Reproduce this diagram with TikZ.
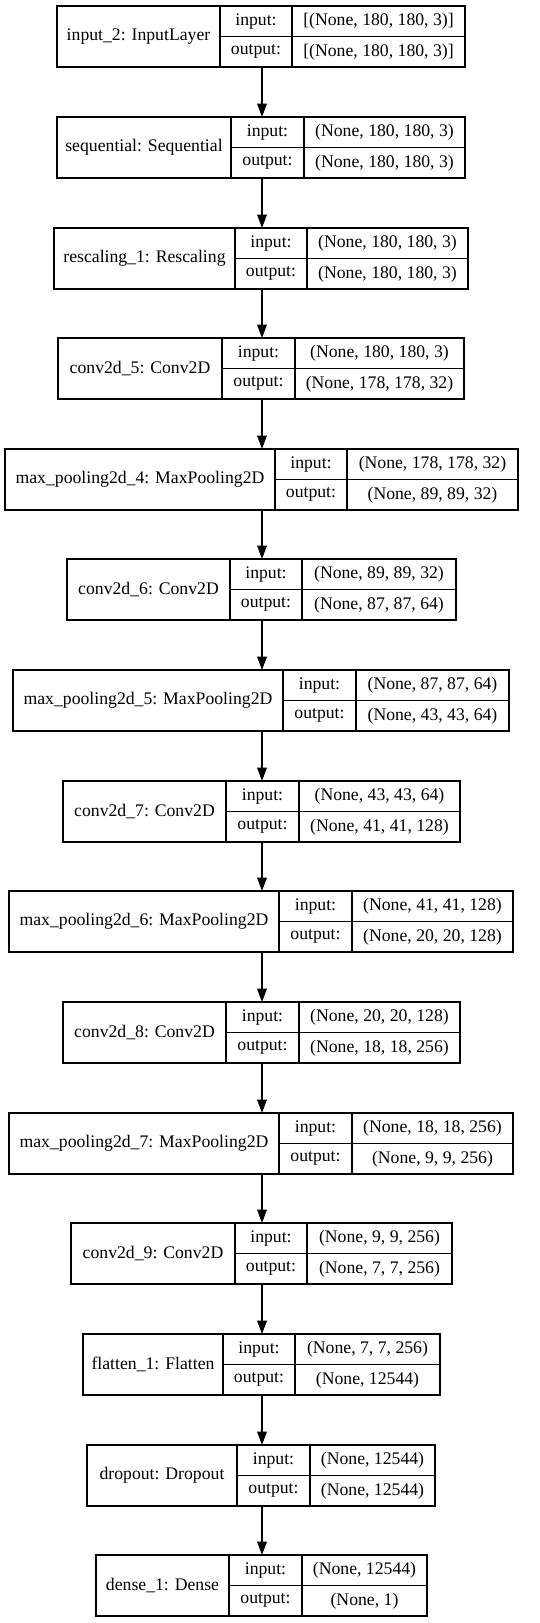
\documentclass[tikz,border=0pt]{standalone}
\usepackage{fontspec}
\setmainfont{Liberation Serif}
\usetikzlibrary{arrows.meta}

\tikzset{
  cell/.style={draw, line width=1.3pt, inner sep=0pt, outer sep=0pt, anchor=north west,
    font=\fontsize{17.7}{20}\selectfont},
  arr/.style={line width=1.3pt, -{Triangle[length=13.3pt,width=9.6pt]}}
}

% one layer: id, top, left, 1st divider, 2nd divider, right, name, input, output
\newcommand{\layer}[9]{%
  \node[cell, minimum width={(#4-#3)*1pt}, minimum height=61pt] (#1) at (#3,#2) {#7};
  \node[cell, minimum width={(#5-#4)*1pt}, minimum height=30.5pt] (#1-in) at (#1.north east) {input:};
  \node[cell, minimum width={(#5-#4)*1pt}, minimum height=30.5pt] (#1-out) at (#1-in.south west) {output:};
  \node[cell, minimum width={(#6-#5)*1pt}, minimum height=30.5pt] (#1-inv) at (#1-in.north east) {#8};
  \node[cell, minimum width={(#6-#5)*1pt}, minimum height=30.5pt] (#1-outv) at (#1-inv.south west) {#9};
}

\begin{document}
\begin{tikzpicture}[x=1pt, y=-1pt]
    \useasboundingbox (0,0) rectangle (540,1623);
    \coordinate (spine) at (262,0);

    \layer{inp}{6}{57}{220}{292}{465}{input\_2: InputLayer}{[(None, 180, 180, 3)]}{[(None, 180, 180, 3)]}
    \layer{seq}{117}{57}{231}{304}{465}{sequential: Sequential}{(None, 180, 180, 3)}{(None, 180, 180, 3)}
    \layer{resc}{228}{54}{235}{307}{468}{rescaling\_1: Rescaling}{(None, 180, 180, 3)}{(None, 180, 180, 3)}
    \layer{conv5}{338}{58}{222}{295}{464}{conv2d\_5: Conv2D}{(None, 180, 180, 3)}{(None, 178, 178, 32)}
    \layer{pool4}{449}{5}{275}{347}{518}{max\_pooling2d\_4: MaxPooling2D}{(None, 178, 178, 32)}{(None, 89, 89, 32)}
    \layer{conv6}{559}{67}{230}{302}{456}{conv2d\_6: Conv2D}{(None, 89, 89, 32)}{(None, 87, 87, 64)}
    \layer{pool5}{670}{13}{283}{356}{509}{max\_pooling2d\_5: MaxPooling2D}{(None, 87, 87, 64)}{(None, 43, 43, 64)}
    \layer{conv7}{781}{63}{226}{299}{460}{conv2d\_7: Conv2D}{(None, 43, 43, 64)}{(None, 41, 41, 128)}
    \layer{pool6}{891}{9}{279}{352}{513}{max\_pooling2d\_6: MaxPooling2D}{(None, 41, 41, 128)}{(None, 20, 20, 128)}
    \layer{conv8}{1002}{63}{226}{299}{460}{conv2d\_8: Conv2D}{(None, 20, 20, 128)}{(None, 18, 18, 256)}
    \layer{pool7}{1113}{9}{279}{352}{513}{max\_pooling2d\_7: MaxPooling2D}{(None, 18, 18, 256)}{(None, 9, 9, 256)}
    \layer{conv9}{1223}{71}{235}{307}{452}{conv2d\_9: Conv2D}{(None, 9, 9, 256)}{(None, 7, 7, 256)}
    \layer{flat}{1334}{83}{223}{295}{440}{flatten\_1: Flatten}{(None, 7, 7, 256)}{(None, 12544)}
    \layer{drop}{1445}{87}{237}{310}{435}{dropout: Dropout}{(None, 12544)}{(None, 12544)}
    \layer{dense}{1555}{96}{229}{302}{427}{dense\_1: Dense}{(None, 12544)}{(None, 1)}

    \draw[arr] (inp.south -| spine) -- (seq.north -| spine);
    \draw[arr] (seq.south -| spine) -- (resc.north -| spine);
    \draw[arr] (resc.south -| spine) -- (conv5.north -| spine);
    \draw[arr] (conv5.south -| spine) -- (pool4.north -| spine);
    \draw[arr] (pool4.south -| spine) -- (conv6.north -| spine);
    \draw[arr] (conv6.south -| spine) -- (pool5.north -| spine);
    \draw[arr] (pool5.south -| spine) -- (conv7.north -| spine);
    \draw[arr] (conv7.south -| spine) -- (pool6.north -| spine);
    \draw[arr] (pool6.south -| spine) -- (conv8.north -| spine);
    \draw[arr] (conv8.south -| spine) -- (pool7.north -| spine);
    \draw[arr] (pool7.south -| spine) -- (conv9.north -| spine);
    \draw[arr] (conv9.south -| spine) -- (flat.north -| spine);
    \draw[arr] (flat.south -| spine) -- (drop.north -| spine);
    \draw[arr] (drop.south -| spine) -- (dense.north -| spine);
\end{tikzpicture}
\end{document}
